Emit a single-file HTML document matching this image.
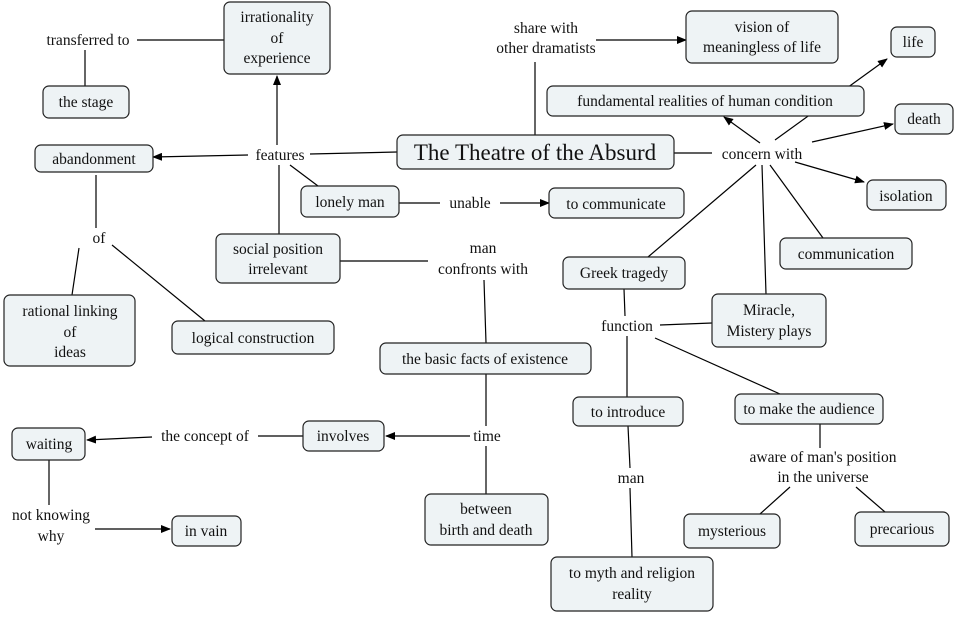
<!DOCTYPE html>
<html><head><meta charset="utf-8"><style>
body{margin:0;background:#fff}
svg text{font-family:"Liberation Serif",serif;font-size:15.5px;fill:#111;text-anchor:middle}
</style></head><body>
<svg width="957" height="613" viewBox="0 0 957 613" xmlns="http://www.w3.org/2000/svg">
<defs><marker id="a" markerWidth="10" markerHeight="8" refX="9" refY="4" orient="auto" markerUnits="userSpaceOnUse"><path d="M0,0 L10,4 L0,8 z" fill="#000"/></marker></defs>
<g stroke="#000" stroke-width="1.2" fill="none">
<line x1="137" y1="40" x2="224" y2="40"/>
<line x1="85" y1="50" x2="85" y2="86"/>
<line x1="310" y1="154" x2="397" y2="152"/>
<line x1="248" y1="155" x2="153" y2="157" marker-end="url(#a)"/>
<line x1="277" y1="145" x2="277" y2="76" marker-end="url(#a)"/>
<line x1="279" y1="165" x2="279" y2="234"/>
<line x1="290" y1="165" x2="318" y2="186"/>
<line x1="96" y1="175" x2="96" y2="228"/>
<line x1="79" y1="248" x2="72" y2="295"/>
<line x1="112" y1="245" x2="205" y2="321"/>
<line x1="399" y1="203" x2="440" y2="203"/>
<line x1="500" y1="203" x2="549" y2="203" marker-end="url(#a)"/>
<line x1="535" y1="135" x2="535" y2="62"/>
<line x1="596" y1="40" x2="686" y2="40" marker-end="url(#a)"/>
<line x1="674" y1="153" x2="712" y2="153"/>
<line x1="760" y1="143" x2="724" y2="117" marker-end="url(#a)"/>
<line x1="775" y1="140" x2="887" y2="59" marker-end="url(#a)"/>
<line x1="812" y1="142" x2="893" y2="124" marker-end="url(#a)"/>
<line x1="795" y1="162" x2="864" y2="182" marker-end="url(#a)"/>
<line x1="770" y1="165" x2="823" y2="238"/>
<line x1="762" y1="165" x2="766" y2="294"/>
<line x1="756" y1="165" x2="648" y2="257"/>
<line x1="340" y1="261" x2="428" y2="261"/>
<line x1="484" y1="280" x2="486" y2="343"/>
<line x1="486" y1="374" x2="486" y2="426"/>
<line x1="470" y1="436" x2="386" y2="436" marker-end="url(#a)"/>
<line x1="486" y1="446" x2="486" y2="494"/>
<line x1="303" y1="436" x2="258" y2="436"/>
<line x1="152" y1="437" x2="87" y2="440" marker-end="url(#a)"/>
<line x1="49" y1="460" x2="49" y2="505"/>
<line x1="95" y1="529" x2="170" y2="529" marker-end="url(#a)"/>
<line x1="624" y1="289" x2="625" y2="316"/>
<line x1="660" y1="325" x2="712" y2="323"/>
<line x1="627" y1="336" x2="627" y2="397"/>
<line x1="655" y1="338" x2="780" y2="394"/>
<line x1="628" y1="426" x2="630" y2="468"/>
<line x1="630" y1="488" x2="632" y2="557"/>
<line x1="820" y1="424" x2="820" y2="448"/>
<line x1="790" y1="487" x2="760" y2="514"/>
<line x1="856" y1="487" x2="885" y2="512"/>
</g>
<g fill="#eef3f5" stroke="#222" stroke-width="1.2">
<rect x="224" y="2" width="106" height="72" rx="6"/>
<rect x="43" y="86" width="86" height="32" rx="6"/>
<rect x="686" y="11" width="152" height="52" rx="6"/>
<rect x="891" y="27" width="44" height="30" rx="6"/>
<rect x="547" y="86" width="317" height="30" rx="6"/>
<rect x="895" y="104" width="58" height="30" rx="6"/>
<rect x="397" y="135" width="277" height="34" rx="6"/>
<rect x="35" y="145" width="118" height="27" rx="6"/>
<rect x="301" y="186" width="98" height="31" rx="6"/>
<rect x="549" y="188" width="135" height="30" rx="6"/>
<rect x="867" y="180" width="79" height="30" rx="6"/>
<rect x="216" y="234" width="124" height="49" rx="6"/>
<rect x="780" y="238" width="132" height="31" rx="6"/>
<rect x="563" y="257" width="122" height="32" rx="6"/>
<rect x="712" y="294" width="114" height="53" rx="6"/>
<rect x="4" y="295" width="131" height="71" rx="6"/>
<rect x="172" y="321" width="162" height="33" rx="6"/>
<rect x="380" y="343" width="211" height="31" rx="6"/>
<rect x="573" y="397" width="110" height="29" rx="6"/>
<rect x="735" y="394" width="148" height="30" rx="6"/>
<rect x="12" y="428" width="73" height="32" rx="6"/>
<rect x="303" y="421" width="81" height="30" rx="6"/>
<rect x="425" y="494" width="123" height="51" rx="6"/>
<rect x="684" y="514" width="96" height="34" rx="6"/>
<rect x="855" y="512" width="94" height="34" rx="6"/>
<rect x="172" y="516" width="69" height="30" rx="6"/>
<rect x="551" y="557" width="162" height="54" rx="6"/>
</g>
<g>
<text x="277" y="22">irrationality</text><text x="277" y="43">of</text><text x="277" y="63">experience</text>
<text x="86" y="107">the stage</text>
<text x="762" y="32">vision of</text><text x="762" y="52">meaningless of life</text>
<text x="913" y="47">life</text>
<text x="705" y="106">fundamental realities of human condition</text>
<text x="924" y="124">death</text>
<text x="535" y="160" style="font-size:23px">The Theatre of  the Absurd</text>
<text x="94" y="164">abandonment</text>
<text x="350" y="207">lonely man</text>
<text x="616" y="209">to communicate</text>
<text x="906" y="201">isolation</text>
<text x="278" y="254">social position</text><text x="278" y="274">irrelevant</text>
<text x="846" y="259">communication</text>
<text x="624" y="278">Greek tragedy</text>
<text x="769" y="315">Miracle,</text><text x="769" y="336">Mistery plays</text>
<text x="70" y="316">rational linking</text><text x="70" y="337">of</text><text x="70" y="357">ideas</text>
<text x="253" y="343">logical construction</text>
<text x="485" y="364">the basic facts of existence</text>
<text x="628" y="417">to introduce</text>
<text x="809" y="414">to make the audience</text>
<text x="49" y="449">waiting</text>
<text x="343" y="441">involves</text>
<text x="486" y="514">between</text><text x="486" y="535">birth and death</text>
<text x="732" y="536">mysterious</text>
<text x="902" y="534">precarious</text>
<text x="206" y="536">in vain</text>
<text x="632" y="578">to myth and religion</text><text x="632" y="599">reality</text>
<text x="88" y="45">transferred to</text>
<text x="546" y="33">share with</text><text x="546" y="53">other dramatists</text>
<text x="280" y="160">features</text>
<text x="762" y="159">concern with</text>
<text x="99" y="243">of</text>
<text x="470" y="208">unable</text>
<text x="483" y="253">man</text><text x="483" y="274">confronts with</text>
<text x="627" y="331">function</text>
<text x="205" y="441">the concept of</text>
<text x="487" y="441">time</text>
<text x="631" y="483">man</text>
<text x="823" y="462">aware of man's position</text><text x="823" y="482">in the universe</text>
<text x="51" y="520">not knowing</text><text x="51" y="541">why</text>
</g>
</svg>
</body></html>
